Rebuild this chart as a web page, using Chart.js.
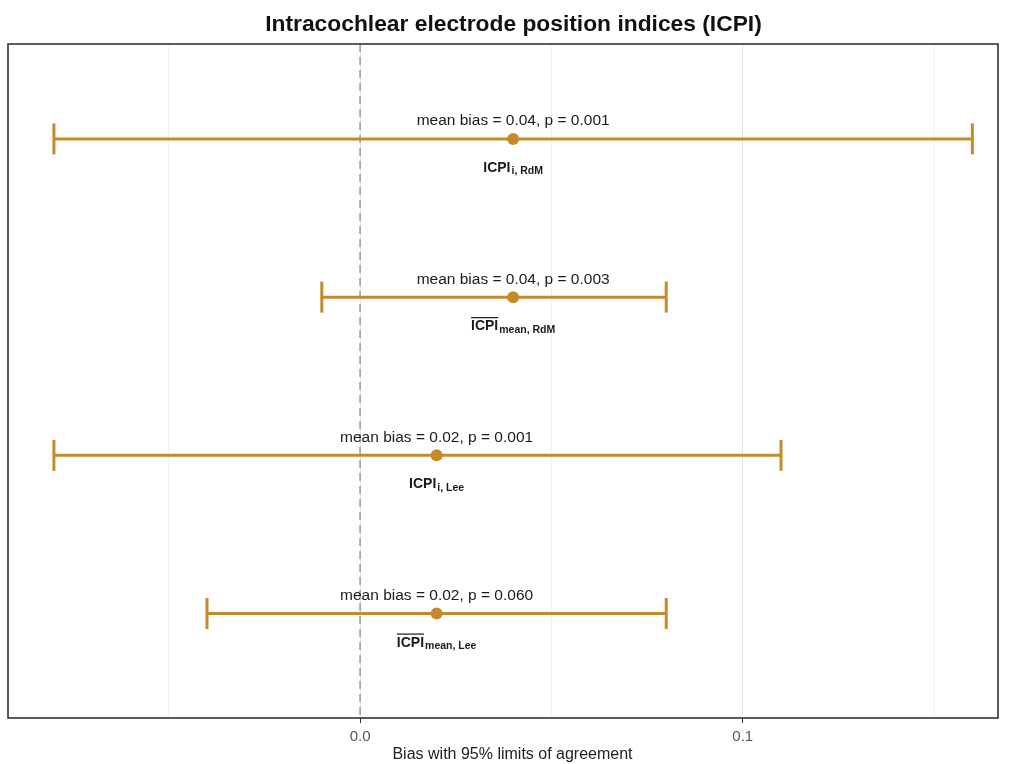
<!DOCTYPE html>
<html>
<head>
<meta charset="utf-8">
<script src="https://cdn.jsdelivr.net/npm/chart.js@4.4.1/dist/chart.umd.min.js"></script>
<style>
  html, body { margin: 0; padding: 0; background: #ffffff; }
  #wrap { width: 1009px; height: 764px; position: relative; }
</style>
</head>
<body>
<div id="wrap"><canvas id="c" width="1009" height="764"></canvas></div>
<script>
// ---- data ----
const chartTitle = 'Intracochlear electrode position indices (ICPI)';
const xAxisTitle = 'Bias with 95% limits of agreement';
const rowPositions = [4, 3, 2, 1];
const labelMain = ['ICPI', 'ICPI', 'ICPI', 'ICPI'];
const labelSub = ['i, RdM', 'mean, RdM', 'i, Lee', 'mean, Lee'];
const labelOverline = [false, true, false, true];
const meanBias = [0.04, 0.04, 0.02, 0.02];
const lowerLimit = [-0.080, -0.010, -0.080, -0.040];
const upperLimit = [0.160, 0.080, 0.110, 0.080];
const pValueText = ['0.001', '0.003', '0.001', '0.060'];
const biasText = ['0.04', '0.04', '0.02', '0.02'];
const xTickValues = [-0.05, 0, 0.05, 0.1, 0.15];
const xTickLabels = { '0': '0.0', '0.1': '0.1' };

const COLOR = '#C58B2B';
const FONT = "'Liberation Sans', Arial, Helvetica, sans-serif";

const datasets = [];
rowPositions.forEach((y, i) => {
  datasets.push({
    type: 'line',
    data: [{ x: lowerLimit[i], y: y }, { x: upperLimit[i], y: y }],
    borderColor: COLOR,
    borderWidth: 3,
    pointStyle: 'line',
    rotation: 90,
    pointRadius: 15.5,
    pointHoverRadius: 15.5,
    pointBorderColor: COLOR,
    pointBorderWidth: 3,
    fill: false,
    tension: 0,
    clip: false
  });
});
datasets.push({
  type: 'scatter',
  data: rowPositions.map((y, i) => ({ x: meanBias[i], y: y })),
  backgroundColor: COLOR,
  borderColor: COLOR,
  pointRadius: 6,
  pointHoverRadius: 6,
  borderWidth: 0
});

const decorPlugin = {
  id: 'decor',
  beforeDatasetsDraw(chart) {
    const { ctx, chartArea: a, scales } = chart;
    const x0 = scales.x.getPixelForValue(0);
    ctx.save();
    ctx.strokeStyle = '#9a9a9a';
    ctx.lineWidth = 1.5;
    ctx.setLineDash([8, 5]);
    ctx.beginPath();
    ctx.moveTo(x0, a.top);
    ctx.lineTo(x0, a.bottom);
    ctx.stroke();
    ctx.restore();
  },
  afterDatasetsDraw(chart) {
    const { ctx, chartArea: a, scales } = chart;
    ctx.save();
    rowPositions.forEach((yv, i) => {
      const cx = scales.x.getPixelForValue(meanBias[i]);
      const cy = scales.y.getPixelForValue(yv);
      // mean bias text
      ctx.fillStyle = '#1a1a1a';
      ctx.font = '15.5px ' + FONT;
      ctx.textAlign = 'center';
      ctx.textBaseline = 'alphabetic';
      ctx.fillText('mean bias = ' + biasText[i] + ', p = ' + pValueText[i], cx, cy - 13.5);
      // label below
      ctx.font = 'bold 14px ' + FONT;
      const wMain = ctx.measureText(labelMain[i]).width;
      ctx.font = 'bold 10.5px ' + FONT;
      const wSub = ctx.measureText(labelSub[i]).width;
      const total = wMain + wSub + 1;
      const left = cx - total / 2;
      const base = cy + 33;
      ctx.textAlign = 'left';
      ctx.font = 'bold 14px ' + FONT;
      ctx.fillText(labelMain[i], left, base);
      ctx.font = 'bold 10.5px ' + FONT;
      ctx.fillText(labelSub[i], left + wMain + 1, base + 2.5);
      if (labelOverline[i]) {
        ctx.strokeStyle = '#1a1a1a';
        ctx.lineWidth = 1.2;
        ctx.beginPath();
        ctx.moveTo(left, base - 12.5);
        ctx.lineTo(left + wMain, base - 12.5);
        ctx.stroke();
      }
    });
    // panel border
    ctx.strokeStyle = '#333333';
    ctx.lineWidth = 1.6;
    ctx.strokeRect(a.left, a.top, a.right - a.left, a.bottom - a.top);
    ctx.restore();
  },
  afterDraw(chart) {
    const { ctx } = chart;
    ctx.save();
    ctx.textAlign = 'center';
    ctx.textBaseline = 'alphabetic';
    ctx.fillStyle = '#111111';
    ctx.font = 'bold 22.8px ' + FONT;
    ctx.fillText(chartTitle, 513.5, 30.5);
    ctx.fillStyle = '#222222';
    ctx.font = '16px ' + FONT;
    ctx.fillText(xAxisTitle, 512.5, 758.5);
    ctx.restore();
  }
};

new Chart(document.getElementById('c'), {
  data: { datasets: datasets },
  plugins: [decorPlugin],
  options: {
    responsive: false,
    animation: false,
    events: [],
    layout: { autoPadding: false, padding: { left: 8, right: 11, top: 44, bottom: 13 } },
    plugins: {
      legend: { display: false },
      tooltip: { enabled: false },
      title: { display: false }
    },
    scales: {
      x: {
        type: 'linear',
        min: -0.092,
        max: 0.1667,
        afterBuildTicks(scale) {
          scale.ticks = xTickValues.map(v => ({ value: v }));
        },
        ticks: {
          autoSkip: false,
          maxRotation: 0,
          color: '#555555',
          padding: 5,
          font: { family: FONT, size: 15, lineHeight: 1.2 },
          callback(value) {
            const key = String(Math.round(value * 100) / 100);
            return xTickLabels[key] !== undefined ? xTickLabels[key] : '';
          }
        },
        grid: {
          drawOnChartArea: true,
          tickLength: 5,
          lineWidth: 1,
          color(ctx) {
            const v = ctx.tick ? Math.round(ctx.tick.value * 100) : 1;
            return (v % 10 === 0) ? '#e3e3e3' : '#f1f1f1';
          },
          tickColor(ctx) {
            const v = ctx.tick ? Math.round(ctx.tick.value * 100) : 1;
            return (v % 10 === 0) ? '#333333' : 'rgba(0,0,0,0)';
          }
        },
        border: { display: false },
        title: { display: false }
      },
      y: {
        type: 'linear',
        display: false,
        min: 0.34,
        max: 4.6
      }
    }
  }
});
</script>
</body>
</html>
